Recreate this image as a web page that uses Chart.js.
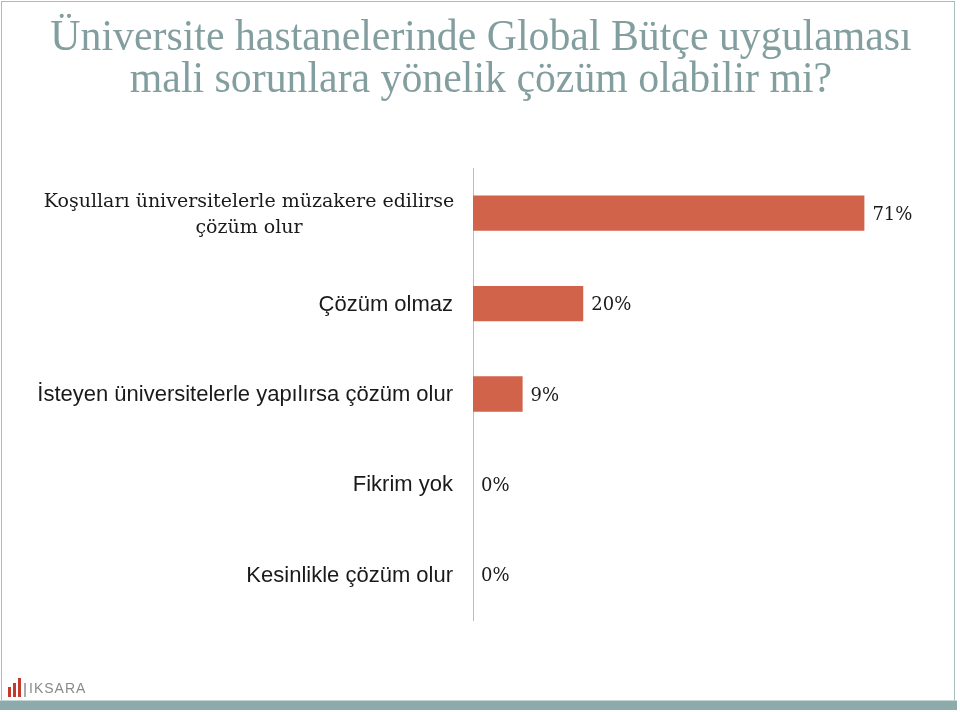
<!DOCTYPE html>
<html lang="tr">
<head>
<meta charset="UTF-8">
<title>Global Bütçe</title>
<style>
  html, body { margin: 0; padding: 0; background: #fff; }
  .page { position: relative; width: 960px; height: 712px; overflow: hidden; background: #fff; }
  .frame { position: absolute; left: 1px; top: 1px; width: 954px; height: 708px; border: 1px solid #a7bcbc; border-bottom: none; box-sizing: border-box; }
  .band { position: absolute; left: 0; top: 700px; width: 957px; height: 9px; background: #8eabab; border-top: 1px solid #c5d5d5; }
  .title { position: absolute; left: 0; top: 15px; width: 962px; text-align: center; font-family: "Liberation Serif", serif; font-size: 44px; line-height: 42px; color: #829e9e; transform: scaleX(0.95); }
  #wrap { position: absolute; left: 0; top: 0; width: 960px; height: 712px; }
  .logo { position: absolute; left: 8px; top: 676px; height: 24px; }
  .logo i { position: absolute; bottom: 3px; width: 3px; background: #c63a2e; }
  .logo span { position: absolute; left: 21px; top: 4px; font-family: "Liberation Sans", sans-serif; font-size: 14px; letter-spacing: 1px; color: #8a8a8a; }
</style>
</head>
<body>
<div class="page">
  <div id="wrap"><canvas id="myChart" width="960" height="712"></canvas></div>
  <div class="frame"></div>
  <div class="band"></div>
  <div class="title">Üniversite hastanelerinde Global Bütçe uygulaması<br>mali sorunlara yönelik çözüm olabilir mi?</div>
  <div class="logo">
    <i style="left:0;height:10px"></i><i style="left:5px;height:14px"></i><i style="left:10px;height:19px"></i><i style="left:16px;height:14px;background:#aaa;width:2px"></i>
    <span>IKSARA</span>
  </div>
</div>
<script src="https://cdn.jsdelivr.net/npm/chart.js"></script>
<script>
  var kategoriler = [
    ['Koşulları üniversitelerle müzakere edilirse', 'çözüm olur'],
    'Çözüm olmaz',
    'İsteyen üniversitelerle yapılırsa çözüm olur',
    'Fikrim yok',
    'Kesinlikle çözüm olur'
  ];
  var yuzdeler = [71, 20, 9, 0, 0];
  var eksenMax = 80;

  var barColor = '#d1634b';

  // kategori etiketleri ve yuzde yazilari elle ciziliyor
  var etiketler = {
    id: 'etiketler',
    afterDraw(chart) {
      var c = chart.ctx;
      var yS = chart.scales.y, xS = chart.scales.x;
      var sol = chart.chartArea.left;
      c.save();
      c.textBaseline = 'middle';
      c.fillStyle = '#1a1a1a';
      kategoriler.forEach(function (lab, i) {
        var y = yS.getPixelForValue(i);
        if (Array.isArray(lab)) {
          c.font = '19px "DejaVu Serif", serif';
          c.textAlign = 'center';
          c.fillText(lab[0], 249, y - 11);
          c.fillText(lab[1], 249, y + 15);
        } else {
          c.font = '22px "Liberation Sans", Arial, sans-serif';
          c.textAlign = 'right';
          c.fillText(lab, sol - 20, y + 1);
        }
      });
      c.font = '18px "DejaVu Serif", serif';
      c.textAlign = 'left';
      yuzdeler.forEach(function (v, i) {
        var x = xS.getPixelForValue(v) + 8;
        c.fillText(v + '%', x, yS.getPixelForValue(i) + 2);
      });
      c.restore();
    }
  };

  new Chart(document.getElementById('myChart'), {
    type: 'bar',
    data: {
      labels: kategoriler,
      datasets: [{
        data: yuzdeler,
        backgroundColor: barColor,
        borderWidth: 0,
        barPercentage: 0.39,
        categoryPercentage: 1
      }]
    },
    options: {
      indexAxis: 'y',
      responsive: false,
      animation: false,
      layout: { padding: { left: 465, top: 168, bottom: 92, right: 46 } },
      plugins: { legend: { display: false }, tooltip: { enabled: false }, title: { display: false } },
      scales: {
        x: { display: false, min: 0, max: eksenMax },
        y: {
          grid: { display: false },
          border: { display: true, color: '#bcbcbc', width: 1 },
          ticks: { display: false }
        }
      }
    },
    plugins: [etiketler]
  });
</script>
</body>
</html>
